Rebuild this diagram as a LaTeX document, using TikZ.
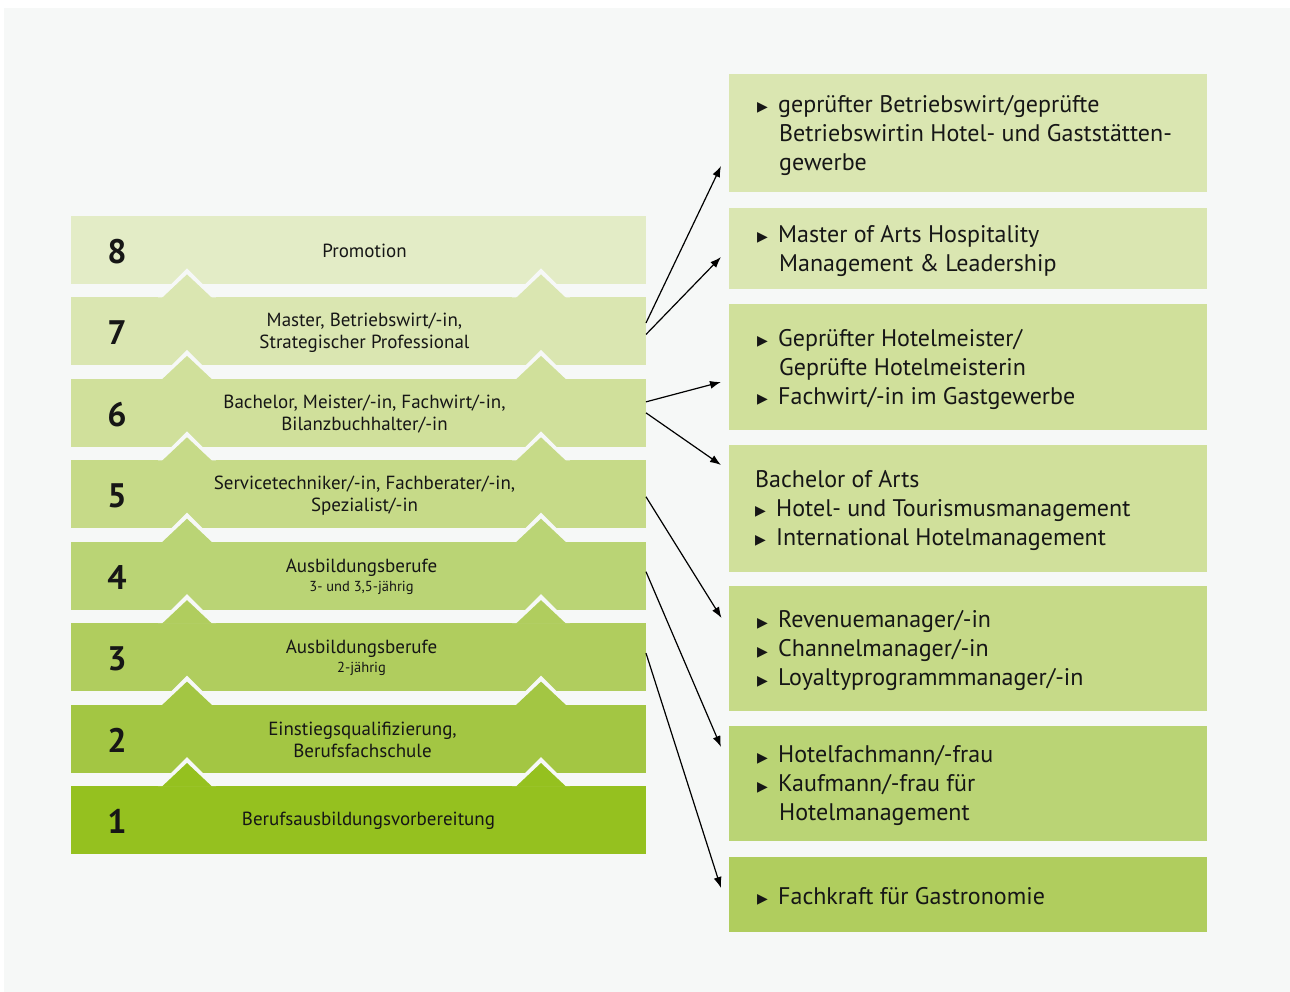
\documentclass[tikz,border=0pt]{standalone}
\usepackage{fontspec}
\setmainfont{PT Sans}
\newfontfamily\symf{DejaVu Sans}
\usetikzlibrary{arrows.meta,calc}
\definecolor{bg}{HTML}{F6F8F7}
\definecolor{c8}{HTML}{E3ECC6}
\definecolor{c7}{HTML}{DAE6B1}
\definecolor{c6}{HTML}{D0E09B}
\definecolor{c5}{HTML}{C6DA88}
\definecolor{c4}{HTML}{BAD475}
\definecolor{c3}{HTML}{B0CD5E}
\definecolor{c2}{HTML}{A3C643}
\definecolor{c1}{HTML}{95C11F}
\definecolor{ink}{HTML}{161616}
\newcommand\bul{\makebox[21pt][l]{\raisebox{0.5pt}{\symf\fontsize{14}{14}\selectfont ▶}}}
\newcommand\ind{\hspace*{22pt}}
\begin{document}
\begin{tikzpicture}[x=1pt,y=-1pt,
  bar/.style={rectangle,minimum width=575pt,minimum height=68pt,inner sep=0,outer sep=0,anchor=north west},
  box/.style={rectangle,minimum width=478pt,inner sep=0,outer sep=0,anchor=north west},
  lvl/.style={align=center,inner sep=0,text=ink,font=\fontsize{19}{22}\selectfont},
  num/.style={inner sep=0,text=ink,font=\bfseries\fontsize{34}{34}\selectfont},
  btxt/.style={anchor=west,align=left,inner sep=0,text=ink,font=\fontsize{24}{29}\selectfont},
  arr/.style={-{Latex[length=11pt,width=8pt]},line width=1.2pt,draw=black}]
\useasboundingbox (0,0) rectangle (1290,992);
\fill[white] (0,0) rectangle (1290,992);
\fill[bg] (4,8) rectangle (1290,992);
% level bars
\foreach \i/\col in {8/c8,7/c7,6/c6,5/c5,4/c4,3/c3,2/c2,1/c1}{
  \pgfmathsetmacro\yt{216+(8-\i)*81.43}
  \node[bar,fill=\col] (b\i) at (71,\yt) {};
}
% notches and peaks
\foreach \i/\col in {7/c7,6/c6,5/c5,4/c4,3/c3,2/c2,1/c1}{
  \pgfmathsetmacro\yt{216+(8-\i)*81.43}
  \foreach \c in {187,541}{
    \fill[bg] (\c-29,\yt) -- (\c,\yt-29) -- (\c+29,\yt) -- cycle;
    \fill[\col] (\c-25,\yt+0.5) -- (\c,\yt-23) -- (\c+25,\yt+0.5) -- cycle;
  }
}
% level numbers
\foreach \i in {1,...,8}{
  \node[num] at ([xshift=-241.5pt,yshift=-1.5pt]b\i.center) {\i};
}
% level texts
\node[lvl] at ([xshift=6pt,yshift=-1pt]b8.center) {Promotion};
\node[lvl] at ([xshift=6pt,yshift=-1pt]b7.center) {Master, Betriebswirt/-in,\\Strategischer Professional};
\node[lvl] at ([xshift=6pt,yshift=-1pt]b6.center) {Bachelor, Meister/-in, Fachwirt/-in,\\Bilanzbuchhalter/-in};
\node[lvl] at ([xshift=6pt,yshift=-1pt]b5.center) {Servicetechniker/-in, Fachberater/-in,\\Spezialist/-in};
\node[lvl] at ([xshift=3pt,yshift=-1pt]b4.center) {Ausbildungsberufe\\[-3pt]{\fontsize{14.5}{16}\selectfont 3- und 3,5-jährig}};
\node[lvl] at ([xshift=3pt,yshift=-1pt]b3.center) {Ausbildungsberufe\\[-3pt]{\fontsize{14.5}{16}\selectfont 2-jährig}};
\node[lvl] at ([xshift=4pt,yshift=-1pt]b2.center) {Einstiegsqualifizierung,\\Berufsfachschule};
\node[lvl] at ([xshift=10pt,yshift=-1pt]b1.center) {Berufsausbildungsvorbereitung};
% right boxes
\node[box,fill=c7,minimum height=118.5pt] (bA) at (729,74) {};
\node[box,fill=c7,minimum height=81.5pt] (bB) at (729,208) {};
\node[box,fill=c6,minimum height=126pt] (bC) at (729,304) {};
\node[box,fill=c6,minimum height=127pt] (bD) at (729,445) {};
\node[box,fill=c5,minimum height=125pt] (bE) at (729,586) {};
\node[box,fill=c4,minimum height=115pt] (bF) at (729,726) {};
\node[box,fill=c3,minimum height=74.5pt] (bG) at (729,857) {};
\node[btxt] at ([xshift=28pt,yshift=-2pt]bA.west) {\bul geprüfter Betriebswirt/geprüfte\\\ind Betriebswirtin Hotel- und Gaststätten-\\\ind gewerbe};
\node[btxt] at ([xshift=28pt,yshift=-2pt]bB.west) {\bul Master of Arts Hospitality\\\ind Management \& Leadership};
\node[btxt] at ([xshift=28pt,yshift=-2pt]bC.west) {\bul Geprüfter Hotelmeister/\\\ind Geprüfte Hotelmeisterin\\\bul Fachwirt/-in im Gastgewerbe};
\node[btxt] at ([xshift=26pt,yshift=-2pt]bD.west) {Bachelor of Arts\\\bul Hotel- und Tourismusmanagement\\\bul International Hotelmanagement};
\node[btxt] at ([xshift=28pt,yshift=-2pt]bE.west) {\bul Revenuemanager/-in\\\bul Channelmanager/-in\\\bul Loyaltyprogrammmanager/-in};
\node[btxt] at ([xshift=28pt,yshift=-2pt]bF.west) {\bul Hotelfachmann/-frau\\\bul Kaufmann/-frau für\\\ind Hotelmanagement};
\node[btxt] at ([xshift=28pt,yshift=-2pt]bG.west) {\bul Fachkraft für Gastronomie};
% arrow tips
\coordinate (tA) at (721,166);
\coordinate (tB) at (721,257);
\coordinate (tC) at (721,382);
\coordinate (tD) at (721,465);
\coordinate (tE) at (721.5,618);
\coordinate (tF) at (721,747);
\coordinate (tG) at (721,888);
\draw[arr] ([yshift=8.5pt]b7.east) -- (tA);
\draw[arr] ([yshift=-3pt]b7.east) -- (tB);
\draw[arr] ([yshift=11pt]b6.east) -- (tC);
\draw[arr] ([yshift=0pt]b6.east) -- (tD);
\draw[arr] ([yshift=-2.5pt]b5.east) -- (tE);
\draw[arr] ([yshift=4pt]b4.east) -- (tF);
\draw[arr] ([yshift=4pt]b3.east) -- (tG);
\end{tikzpicture}
\end{document}
